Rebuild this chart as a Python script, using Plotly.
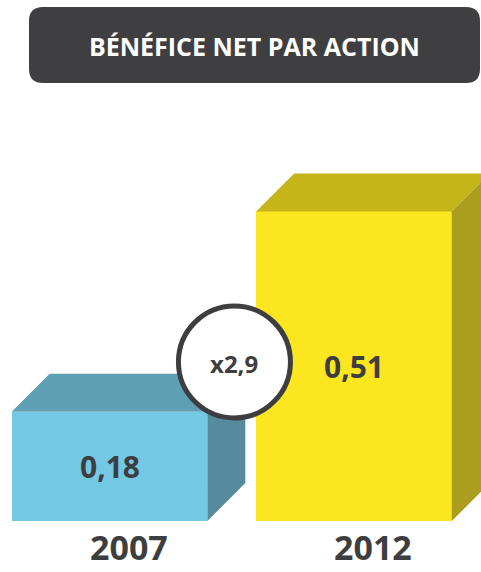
import plotly.graph_objects as go

# Data
years = ["2007", "2012"]
eps_values = [0.18, 0.51]
value_labels = ["0,18", "0,51"]
multiplier_label = "x2,9"
title_text = "BÉNÉFICE NET PAR ACTION"

# Colours (front, top, side)
front_colors = ["#73c8e4", "#fce61f"]
top_colors = ["#5f9fb3", "#c5b51b"]
side_colors = ["#568b9d", "#ab9d1e"]
text_color = "#3e3e40"

W, H = 481, 572
# pixel geometry of the "axes"
x0_px, x_step_px = 109.5, 244.5
base_px, y_px_per_unit = 521, 607
bar_w = 0.8
depth_px = 38
dx = depth_px / x_step_px
dy = depth_px / y_px_per_unit

xs = list(range(len(years)))

fig = go.Figure()

# Front faces
fig.add_trace(go.Bar(
    x=xs, y=eps_values, width=bar_w,
    marker=dict(color=front_colors, line=dict(width=0)),
    hoverinfo="skip", showlegend=False
))

# Top and side faces for the 3D look
for i, v in enumerate(eps_values):
    left = xs[i] - bar_w / 2
    right = xs[i] + bar_w / 2
    fig.add_trace(go.Scatter(
        x=[left, left + dx, right + dx, right, left],
        y=[v, v + dy, v + dy, v, v],
        fill="toself", fillcolor=top_colors[i], mode="lines",
        line=dict(width=0, color=top_colors[i]),
        hoverinfo="skip", showlegend=False
    ))
    fig.add_trace(go.Scatter(
        x=[right, right, right + dx, right + dx, right],
        y=[0, v, v + dy, dy, 0],
        fill="toself", fillcolor=side_colors[i], mode="lines",
        line=dict(width=0, color=side_colors[i]),
        hoverinfo="skip", showlegend=False
    ))
    # value inside the bar
    fig.add_annotation(
        x=xs[i], y=v / 2, text=f"<b>{value_labels[i]}</b>", showarrow=False,
        yanchor="middle",
        font=dict(family="Open Sans", size=30, color=text_color)
    )
    # year below the bar
    fig.add_annotation(
        x=xs[i] + dx / 2, y=0, yshift=-(H - base_px) + 1, text=f"<b>{years[i]}</b>",
        showarrow=False, yanchor="bottom", borderpad=0,
        font=dict(family="Open Sans", size=34, color=text_color)
    )

# Growth circle between the bars
cx = (xs[0] + xs[1]) / 2 + 0.011
cy = (eps_values[0] + eps_values[1]) / 2 - 0.083
fig.add_shape(
    type="circle", xref="x", yref="y",
    xsizemode="pixel", ysizemode="pixel",
    xanchor=cx, yanchor=cy, x0=-56, x1=56, y0=-56, y1=56,
    fillcolor="white", line=dict(color=text_color, width=5), layer="above"
)
fig.add_annotation(
    x=cx, y=cy, text=f"<b>{multiplier_label}</b>", showarrow=False,
    yanchor="middle", yshift=-2,
    font=dict(family="Open Sans", size=24, color=text_color)
)

# Title box (rounded rectangle, pixel path anchored at top-left)
bx0, bx1, by0, by1, r = 29, 480, 7, 83, 14
path = (
    f"M {bx0 + r},{-by0} L {bx1 - r},{-by0} Q {bx1},{-by0} {bx1},{-by0 - r} "
    f"L {bx1},{-by1 + r} Q {bx1},{-by1} {bx1 - r},{-by1} "
    f"L {bx0 + r},{-by1} Q {bx0},{-by1} {bx0},{-by1 + r} "
    f"L {bx0},{-by0 - r} Q {bx0},{-by0} {bx0 + r},{-by0} Z"
)
fig.add_shape(
    type="path", xref="paper", yref="paper",
    xsizemode="pixel", ysizemode="pixel", xanchor=0, yanchor=1,
    path=path, fillcolor="#3f3f41", line=dict(width=0)
)
fig.add_annotation(
    xref="paper", yref="paper", x=(bx0 + bx1) / 2 / W, y=1 - 46 / H,
    xanchor="center", yanchor="middle",
    text=f"<b>{title_text}</b>", showarrow=False,
    font=dict(family="Open Sans", size=25, color="white")
)

fig.update_layout(
    width=W, height=H,
    margin=dict(l=0, r=0, t=0, b=0),
    plot_bgcolor="white", paper_bgcolor="white",
    xaxis=dict(range=[-x0_px / x_step_px, (W - x0_px) / x_step_px], visible=False, fixedrange=True),
    yaxis=dict(range=[-(H - base_px) / y_px_per_unit, base_px / y_px_per_unit], visible=False, fixedrange=True),
    bargap=0,
)

# remove the default page margin so the figure fills the window
fig.write_html(
    "out.html",
    config={"displayModeBar": False},
    post_script="document.body.style.margin='0';document.body.style.overflow='hidden';",
)
